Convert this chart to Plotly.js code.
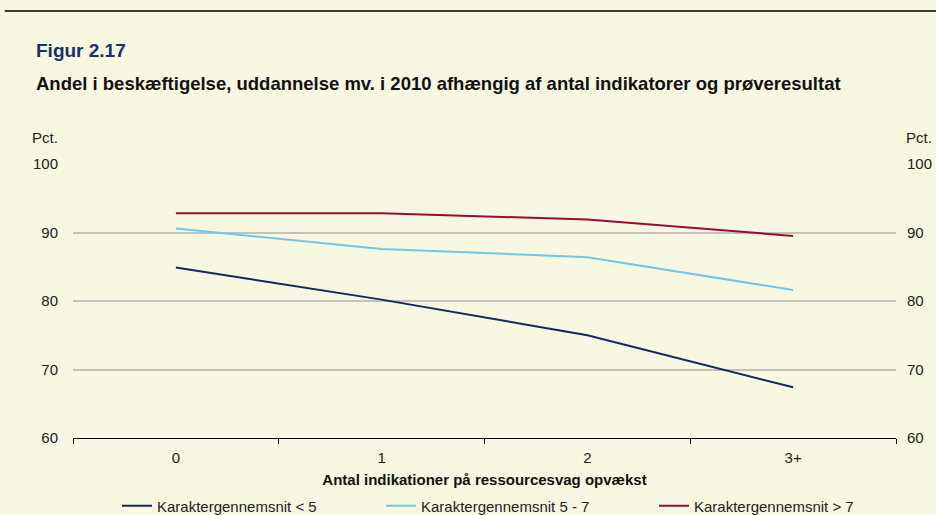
<!DOCTYPE html>
<html>
<head>
<meta charset="utf-8">
<script src="https://cdn.plot.ly/plotly-3.0.1.min.js"></script>
<style>html,body{margin:0;padding:0;background:#F8F7E2;}#chart{width:936px;height:515px;}</style>
</head>
<body>
<div id="chart"></div>
<script>
const categories = ["0", "1", "2", "3+"];
const seriesNames = ["Karaktergennemsnit < 5", "Karaktergennemsnit 5 - 7", "Karaktergennemsnit > 7"];
const below5 = [84.9, 80.2, 75.0, 67.4];
const between5and7 = [90.6, 87.6, 86.4, 81.6];
const above7 = [92.8, 92.8, 91.9, 89.5];
const yTicks = [60, 70, 80, 90, 100];
const figureLabel = "Figur 2.17";
const subtitle = "Andel i beskæftigelse, uddannelse mv. i 2010 afhængig af antal indikatorer og prøveresultat";
const xTitle = "Antal indikationer på ressourcesvag opvækst";
const unitLabel = "Pct.";

const colors = ["#13285F", "#70C7EA", "#9C0B35"];
const font = "Liberation Sans, Arial, sans-serif";
const values = [below5, between5and7, above7];
const legendIds = ["legend", "legend2", "legend3"];
const legendTextStarts = [157, 421, 694];

const traces = values.map((v, i) => ({
  x: categories, y: v, name: seriesNames[i], type: "scatter", mode: "lines",
  line: {color: colors[i], width: 2}, hoverinfo: "skip", legend: legendIds[i]
}));
traces.push({x: categories, y: above7, yaxis: "y2", type: "scatter", mode: "lines",
  line: {width: 0, color: "rgba(0,0,0,0)"}, showlegend: false, hoverinfo: "skip"});

const layout = {
  width: 936, height: 515,
  paper_bgcolor: "#F8F7E2", plot_bgcolor: "#F8F7E2",
  margin: {l: 73, r: 40, t: 164, b: 77, autoexpand: false},
  font: {family: font, size: 15, color: "#222"},
  showlegend: true,
  xaxis: {
    type: "category", categoryarray: categories, range: [-0.5, 3.5],
    showline: true, linecolor: "#000", linewidth: 1.3,
    ticks: "outside", tickson: "boundaries", ticklen: 5, tickcolor: "#000",
    showgrid: false, zeroline: false, fixedrange: true, automargin: false,
    tickfont: {size: 15, color: "#222"}, ticklabelstandoff: 6,
    title: {text: "<b>" + xTitle + "</b>", font: {size: 15, color: "#111"}, standoff: 9}
  },
  yaxis: {
    range: [60, 100], tickvals: yTicks, showgrid: true, gridcolor: "#C3C2BA", gridwidth: 2,
    zeroline: false, showline: false, ticks: "", tickfont: {size: 15, color: "#222"},
    ticklabelstandoff: 14, fixedrange: true, automargin: false
  },
  yaxis2: {
    range: [60, 100], tickvals: yTicks, overlaying: "y", side: "right", showgrid: false,
    zeroline: false, showline: false, ticks: "", tickfont: {size: 15, color: "#222"},
    ticklabelstandoff: 10, fixedrange: true, automargin: false
  },
  shapes: [
    {type: "line", xref: "paper", yref: "paper", x0: -0.083, x1: 1.05, y0: 1.5584, y1: 1.5584,
     line: {color: "#000", width: 1.3}}
  ],
  annotations: [
    {text: "<b>" + figureLabel + "</b>", xref: "paper", yref: "paper", x: -0.0474, y: 1.416,
     xanchor: "left", yanchor: "middle", showarrow: false, font: {size: 19, color: "#1B2F6E"}},
    {text: "<b>" + subtitle + "</b>", xref: "paper", yref: "paper", x: -0.0474, y: 1.2956,
     xanchor: "left", yanchor: "middle", showarrow: false, font: {size: 18.5, color: "#111"}},
    {text: unitLabel, xref: "paper", yref: "paper", x: -0.0155, y: 1.0985,
     xanchor: "right", yanchor: "middle", showarrow: false, font: {size: 15, color: "#222"}},
    {text: unitLabel, xref: "paper", yref: "paper", x: 1.0095, y: 1.0985,
     xanchor: "left", yanchor: "middle", showarrow: false, font: {size: 15, color: "#222"}}
  ]
};
legendIds.forEach((id, i) => {
  layout[id] = {
    orientation: "h", xref: "container", yref: "container",
    x: (legendTextStarts[i] - 40) / 936, xanchor: "left", y: (515 - 506) / 515, yanchor: "middle",
    font: {size: 15, color: "#222"}, bgcolor: "rgba(0,0,0,0)", borderwidth: 0
  };
});

Plotly.newPlot("chart", traces, layout, {displayModeBar: false, staticPlot: true});
</script>
</body>
</html>
